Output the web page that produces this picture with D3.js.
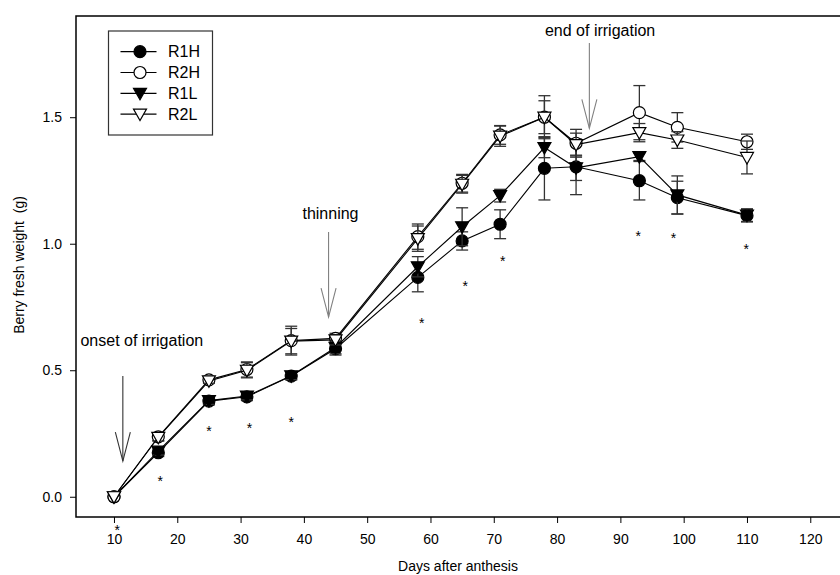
<!DOCTYPE html>
<html>
<head>
<meta charset="utf-8">
<script src="https://cdn.jsdelivr.net/npm/d3@7"></script>
<style>
  body { margin: 0; background: #fff; }
  svg { display: block; font-family: "Liberation Sans", Arial, sans-serif; }
  .axis text { font-size: 14px; fill: #000; }
  .axis path, .axis line { stroke: #000; }
</style>
</head>
<body>
<svg id="chart" width="840" height="575"></svg>
<script>
// sampling days
const DAYS = [10, 17, 25, 31, 38, 45, 58, 65, 71, 78, 83, 93, 99, 110];

// means (g)
const R1H = [0, 0.174, 0.378, 0.395, 0.477, 0.585, 0.867, 1.011, 1.077, 1.298, 1.304, 1.249, 1.182, 1.111];
const R2H = [0, 0.237, 0.462, 0.503, 0.617, 0.626, 1.028, 1.239, 1.43, 1.5, 1.397, 1.518, 1.46, 1.403];
const R1L = [0, 0.18, 0.38, 0.398, 0.478, 0.59, 0.909, 1.067, 1.19, 1.38, 1.3, 1.344, 1.193, 1.113];
const R2L = [0, 0.235, 0.458, 0.5, 0.615, 0.62, 1.02, 1.235, 1.425, 1.5, 1.392, 1.439, 1.41, 1.341];

// error bars (+/-)
const R1H_ERR = [0, 0.015, 0.015, 0.015, 0.015, 0.025, 0.057, 0.036, 0.057, 0.125, 0.11, 0.076, 0.065, 0.025];
const R2H_ERR = [0, 0.015, 0.01, 0.03, 0.057, 0.02, 0.05, 0.035, 0.037, 0.065, 0.055, 0.107, 0.058, 0.03];
const R1L_ERR = [0, 0.015, 0.015, 0.015, 0.015, 0.025, 0.04, 0.075, 0.025, 0.04, 0.05, 0.015, 0.075, 0.025];
const R2L_ERR = [0, 0.015, 0.01, 0.03, 0.05, 0.02, 0.05, 0.035, 0.04, 0.085, 0.045, 0.036, 0.033, 0.065];

// significance stars
const STAR_DAYS = [10.5, 17.3, 25, 31.4, 38, 58.6, 65.5, 71.4, 92.8, 98.4, 109.9];
const STAR_Y = [-0.12, 0.073, 0.273, 0.283, 0.307, 0.698, 0.843, 0.942, 1.043, 1.034, 0.991];

const SERIES_NAMES = ["R1H", "R2H", "R1L", "R2L"];
const X_TICKS = [10, 20, 30, 40, 50, 60, 70, 80, 90, 100, 110, 120];
const Y_TICKS = [0, 0.5, 1.0, 1.5];

// annotations: label, arrow day, arrow top/tip value, label day, label baseline value
const NOTE_LABELS = ["onset of irrigation", "thinning", "end of irrigation"];
const NOTE_DAY = [11.4, 43.9, 85.1];
const NOTE_TOP = [0.477, 1.046, 1.793];
const NOTE_TIP = [0.141, 0.71, 1.456];
const NOTE_TEXT_DAY = [14.4, 44.2, 86.8];
const NOTE_TEXT_Y = [0.594, 1.097, 1.82];

var svg = d3.select("#chart"),
  margin = { top: 16, left: 76, bottom: 58 },
  height = +svg.attr("height") - margin.bottom;

var x = d3.scaleLinear().domain([4, 126]).range([margin.left, margin.left + 122 * 6.33]);
var y = d3.scaleLinear().domain([-0.08, 1.9]).range([height, margin.top]);

var series = [
  { name: "R1H", v: R1H, e: R1H_ERR, shape: "circle", fill: "#000" },
  { name: "R2H", v: R2H, e: R2H_ERR, shape: "circle", fill: "#fff" },
  { name: "R1L", v: R1L, e: R1L_ERR, shape: "tri", fill: "#000" },
  { name: "R2L", v: R2L, e: R2L_ERR, shape: "tri", fill: "#fff" }
];

function marker(sel, s) {
  if (s.shape === "circle") {
    sel.append("circle").attr("r", 6);
  } else {
    sel.append("path").attr("d", "M-6.5,-5L6.5,-5L0,6.5Z");
  }
  sel.selectAll("circle,path")
    .attr("fill", s.fill)
    .attr("stroke", "#000")
    .attr("stroke-width", 1.2);
}

// axes
svg.append("g")
  .attr("class", "axis")
  .attr("transform", "translate(0," + height + ")")
  .call(d3.axisBottom(x).tickValues(X_TICKS).tickSize(6).tickPadding(11).tickSizeOuter(0))
  .call(g => g.select(".domain").remove());

svg.append("g")
  .attr("class", "axis")
  .attr("transform", "translate(" + margin.left + ",0)")
  .call(d3.axisLeft(y).tickValues(Y_TICKS).tickFormat(d3.format(".1f")).tickSize(6).tickPadding(8).tickSizeOuter(0))
  .call(g => g.select(".domain").remove());

// frame
svg.append("rect")
  .attr("x", margin.left)
  .attr("y", margin.top)
  .attr("width", x(126) - margin.left)
  .attr("height", height - margin.top)
  .attr("fill", "none")
  .attr("stroke", "#000")
  .attr("stroke-width", 1.5);

// axis titles
svg.append("text")
  .attr("x", 458)
  .attr("y", 571)
  .attr("text-anchor", "middle")
  .attr("font-size", 14)
  .text("Days after anthesis");

svg.append("text")
  .attr("transform", "translate(24,265) rotate(-90)")
  .attr("text-anchor", "middle")
  .attr("font-size", 14)
  .attr("xml:space", "preserve")
  .text("Berry fresh weight  (g)");

var line = d3.line()
  .x(function(d) { return x(d[0]); })
  .y(function(d) { return y(d[1]); });

series.forEach(function(s) {
  var pts = DAYS.map(function(d, i) { return [d, s.v[i], s.e[i]]; });
  var g = svg.append("g");

  // error bars
  var eb = g.selectAll(".eb").data(pts.filter(function(p) { return p[2] > 0; }))
    .enter().append("g")
    .attr("stroke", "#333")
    .attr("stroke-width", 1.3);
  eb.append("line")
    .attr("x1", function(p) { return x(p[0]); })
    .attr("x2", function(p) { return x(p[0]); })
    .attr("y1", function(p) { return y(p[1] - p[2]); })
    .attr("y2", function(p) { return y(p[1] + p[2]); });
  [-1, 1].forEach(function(sign) {
    eb.append("line")
      .attr("x1", function(p) { return x(p[0]) - 6; })
      .attr("x2", function(p) { return x(p[0]) + 6; })
      .attr("y1", function(p) { return y(p[1] + sign * p[2]); })
      .attr("y2", function(p) { return y(p[1] + sign * p[2]); });
  });

  g.append("path")
    .datum(pts)
    .attr("fill", "none")
    .attr("stroke", "#000")
    .attr("stroke-width", 1.1)
    .attr("d", line);

  g.selectAll(".pt").data(pts).enter().append("g")
    .attr("transform", function(p) { return "translate(" + x(p[0]) + "," + y(p[1]) + ")"; })
    .each(function() { marker(d3.select(this), s); });
});

// stars
svg.append("g").selectAll("text")
  .data(STAR_DAYS)
  .enter().append("text")
  .attr("x", function(d) { return x(d); })
  .attr("y", function(d, i) { return y(STAR_Y[i]) + 8; })
  .attr("text-anchor", "middle")
  .attr("font-size", 14)
  .text("*");

// annotation arrows
NOTE_LABELS.forEach(function(label, i) {
  var ax = x(NOTE_DAY[i]), top = y(NOTE_TOP[i]), tip = y(NOTE_TIP[i]);
  var col = i === 0 ? "#333" : "#808080";
  svg.append("line")
    .attr("x1", ax).attr("x2", ax)
    .attr("y1", top).attr("y2", tip)
    .attr("stroke", col).attr("stroke-width", 1.1);
  svg.append("path")
    .attr("d", "M" + (ax - 7.5) + "," + (tip - 29) + "L" + ax + "," + tip + "L" + (ax + 7.5) + "," + (tip - 29))
    .attr("fill", "none")
    .attr("stroke", col)
    .attr("stroke-width", 1.1);
  svg.append("text")
    .attr("x", x(NOTE_TEXT_DAY[i]))
    .attr("y", y(NOTE_TEXT_Y[i]))
    .attr("text-anchor", "middle")
    .attr("font-size", 16)
    .text(label);
});

// legend
var legend = svg.append("g");
legend.append("rect")
  .attr("x", 108.5).attr("y", 31)
  .attr("width", 104).attr("height", 104)
  .attr("fill", "#fff")
  .attr("stroke", "#333")
  .attr("stroke-width", 1.2);

var item = legend.selectAll(".item")
  .data(series)
  .enter().append("g")
  .attr("transform", function(d, i) { return "translate(0," + (51.7 + i * 20.8) + ")"; });
item.append("line")
  .attr("x1", 120.5).attr("x2", 156.5)
  .attr("stroke", "#000").attr("stroke-width", 1.2);
item.append("g")
  .attr("transform", "translate(140,0)")
  .each(function(s) { marker(d3.select(this), s); });
item.append("text")
  .attr("x", 168)
  .attr("dy", "0.36em")
  .attr("font-size", 16)
  .text(function(s) { return s.name; });
</script>
</body>
</html>
